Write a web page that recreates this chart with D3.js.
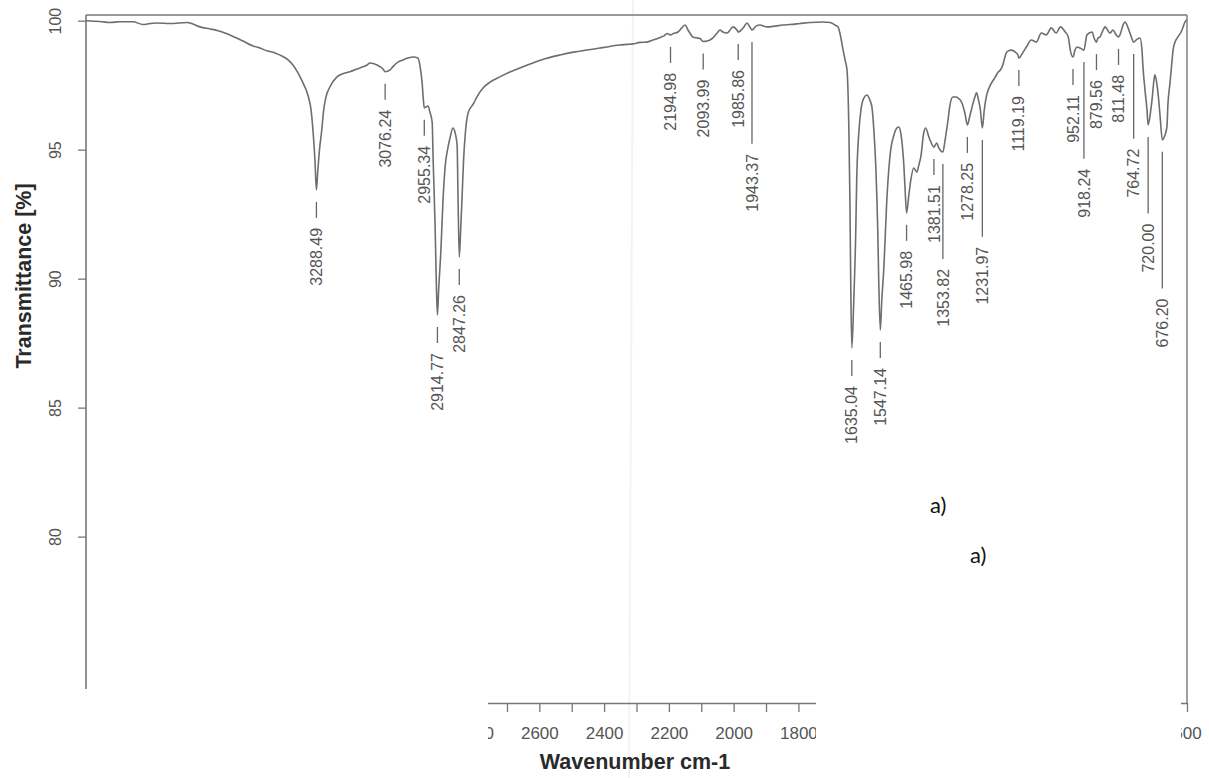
<!DOCTYPE html>
<html><head><meta charset="utf-8">
<script src="https://cdn.jsdelivr.net/npm/d3@7"></script>
<style>
html,body{margin:0;padding:0;background:#fff;}
svg{display:block;}
</style></head><body>
<svg id="chart" width="1209" height="778"></svg>
<script>
// ---- data (wavenumber in cm-1, transmittance in %) ----
const spectrumWavenumber = [4000,3957,3926,3895,3855,3824,3802,3781,3741,3688,3670,3648,3617,3595,3571,3546,3515,3484,3463,3441,3416,3392,3376,3361,3345,3330,3314,3305,3298,3293,
3284,3279,3272,3266,3259,3247,3225,3200,3185,3154,3132,3123,3101,3083,
3061,3052,3036,3021,3006,2990,2975,2969,2962,2958,
2944,2938,2931,2928,2922,2918,
2911,2904,2897.5,2891,2882,2876,2867,2860,2854,2851,
2843,2839,2834,2829,2820,2802,2793,2774,2752,2722,2691,2660,2620,2583,2536,2490,2453,2413,2391,2366,2351,2329,2311,2289,2268,2249,2227,2215,2206,
2186,2172,2163,2150,2141,2135,2126,2113,2104,
2082,2073,2064,2051,2042,2033,2021,2011,2002,1990,
1980,1968,1959,1950,
1931,1919,1897,1872,1848,1826,1795,1764,1724,1702,1687,1678,1672,1662,1656,1650,1644,1641,1638.5,
1629,1623,1620,1613.5,1607,1598,1589,1579.5,1573,1567,1561,1555,1552,
1542.5,1536,1527,1521,1515,1505,1496,1490,1484,1481,1474.5,1471.5,
1459,1453,1444,1434,1428,1422,1413,1407,1397,1391,
1373,1366.5,
1347,1338,1332,1323,1313,1307,1295,1286,
1272,1266,1256,1250,1244,1238,
1226,1220,1214,1207,1198,1192,1183,1176.5,1170,1158,1152,1142.6,1127,1121,
1105.5,1096,1081,1065,1050,1034.5,1019,1004,991,976,966.6,960.4,
946,940,930.4,
909,893,887,
875,869,859,853,838,828.5,819,
807,797.6,791.5,782,773,
757.5,745,739,736,729.7,723.5,
711,708,702,699,692.6,689.6,683.4,
668,662,659,652.5,646,643,637,628,618.5,612,606,600];
const spectrumTransmittance = [100.00,99.97,99.93,99.96,99.96,99.85,99.89,99.91,99.89,99.93,99.87,99.76,99.68,99.62,99.52,99.39,99.21,99.02,98.94,98.83,98.75,98.61,98.48,98.28,97.97,97.59,97.08,96.54,95.57,94.60,
94.21,94.99,95.76,96.54,97.04,97.43,97.82,97.97,98.02,98.17,98.28,98.36,98.28,98.13,
98.09,98.22,98.40,98.48,98.55,98.59,98.55,98.28,97.59,96.90,
96.69,96.46,96.07,94.60,92.08,89.75,
89.56,91.11,93.05,94.33,95.10,95.45,95.84,95.65,95.18,93.05,
91.89,93.05,94.60,95.57,96.42,96.81,97.04,97.39,97.62,97.82,98.01,98.17,98.36,98.52,98.67,98.79,98.86,98.94,98.98,99.04,99.06,99.08,99.10,99.16,99.17,99.25,99.35,99.41,99.50,
99.50,99.56,99.68,99.83,99.64,99.52,99.37,99.33,99.31,
99.21,99.25,99.33,99.52,99.64,99.56,99.52,99.64,99.76,99.64,
99.60,99.76,99.91,99.76,
99.79,99.83,99.76,99.79,99.83,99.85,99.89,99.93,99.95,99.93,99.83,99.76,99.52,98.86,98.48,98.09,95.65,93.05,89.95,
89.17,91.77,93.82,95.65,96.54,97.00,97.12,96.93,96.65,95.76,94.33,91.89,89.95,
89.17,90.45,93.05,94.21,94.99,95.57,95.84,95.88,95.65,95.38,94.41,93.71,
93.24,93.82,94.29,94.13,94.41,94.72,95.65,95.84,95.49,95.30,
95.26,95.07,
95.38,96.15,96.73,97.04,97.04,97.00,96.81,96.42,
96.23,96.54,97.00,97.20,96.93,96.54,
96.54,97.04,97.31,97.51,97.70,97.82,98.01,98.09,98.24,98.75,98.83,98.86,98.75,98.63,
98.79,98.98,99.25,99.17,99.52,99.45,99.72,99.52,99.76,99.56,99.37,98.86,
98.86,98.98,98.94,
99.45,99.56,99.33,
99.33,99.37,99.64,99.76,99.52,99.64,99.45,
99.45,99.83,99.95,99.72,99.41,
99.25,99.33,98.86,98.22,97.31,96.54,
96.62,96.93,97.70,97.90,97.51,97.20,96.35,
95.57,95.88,96.73,97.59,98.48,98.86,99.17,99.37,99.56,99.76,99.95,100.03];

const peakWavenumber = [3288.49,3076.24,2955.34,2914.77,2847.26,2194.98,2093.99,1985.86,1943.37,1635.04,1547.14,1465.98,1381.51,1353.82,1278.25,1231.97,1119.19,952.11,918.24,879.56,811.48,764.72,720.00,676.20];
const peakTransmittance = [93.44,98.02,96.62,88.59,90.84,99.45,99.19,99.56,99.64,87.31,88.01,92.55,95.10,94.91,95.96,95.84,98.55,98.59,98.86,99.17,99.37,99.17,95.96,95.38];

const xTickValues = d3.range(600, 4001, 100);
const xLabelValues = [4000,3800,3600,3400,3200,3000,2800,2600,2400,2200,2000,1800,1600,1400,1200,1000,800,600];
const yTickValues = [80,85,90,95,100];
const xTitle = "Wavenumber cm-1";
const yTitle = "Transmittance [%]";
const annotations = ["a)","a)"];

// ---- drawing ----
const svg = d3.select("#chart");
const FONT = "'Liberation Sans', Arial, Helvetica, sans-serif";
const x = d3.scaleLinear().domain([4000,600]).range([86,1187]);
const y = d3.scaleLinear().domain([73.55,100.22]).range([703,15]);
const axisColor = "#777", textColor = "#555";

// faint paper crease
svg.append("line").attr("x1",633).attr("x2",629).attr("y1",0).attr("y2",778)
  .attr("stroke","#f3f3f3").attr("stroke-width",2);

const defs = svg.append("defs");
const clip = defs.append("clipPath").attr("id","bottomClip");
clip.append("rect").attr("x",488).attr("y",690).attr("width",328).attr("height",88);
clip.append("rect").attr("x",1181).attr("y",690).attr("width",28).attr("height",88);

// frame: top, right, left spine
svg.append("line").attr("x1",x(4000)).attr("x2",x(600)).attr("y1",y.range()[1]).attr("y2",y.range()[1])
  .attr("stroke",axisColor).attr("stroke-width",1.4);
svg.append("line").attr("x1",x(600)).attr("x2",x(600)).attr("y1",y.range()[1]).attr("y2",y.range()[0])
  .attr("stroke",axisColor).attr("stroke-width",1.4);
svg.append("line").attr("x1",x(4000)).attr("x2",x(4000)).attr("y1",y.range()[1]).attr("y2",689)
  .attr("stroke",axisColor).attr("stroke-width",1.6);

// y axis ticks
const yAxis = svg.append("g").attr("transform",`translate(${x(4000)},0)`)
  .call(d3.axisLeft(y).tickValues(yTickValues).tickSize(8).tickFormat(d3.format("d")));
yAxis.select(".domain").remove();
yAxis.selectAll(".tick line").attr("stroke",axisColor).attr("stroke-width",1.3);
yAxis.selectAll(".tick text")
  .attr("x",null).attr("dy",null)
  .attr("transform","translate(-31,0) rotate(-90)")
  .attr("text-anchor","middle").attr("dy","0.35em")
  .attr("font-family",FONT).attr("font-size","16px").attr("fill",textColor);

// x axis (only the surviving parts of the scanned axis are visible)
const xAxisWrap = svg.append("g").attr("clip-path","url(#bottomClip)");
const xAxis = xAxisWrap.append("g")
  .attr("transform",`translate(0,${y.range()[0]})`)
  .call(d3.axisBottom(x).tickValues(xTickValues).tickSize(9).tickSizeOuter(0)
    .tickFormat(d => xLabelValues.includes(d) ? d3.format("d")(d) : ""));
xAxis.select(".domain").attr("stroke",axisColor).attr("stroke-width",1.4);
xAxis.selectAll(".tick line").attr("stroke",axisColor).attr("stroke-width",1.3);
xAxis.selectAll(".tick text").attr("y",36).attr("dy",null)
  .attr("font-family",FONT).attr("font-size","17px").attr("fill",textColor);

// titles
svg.append("text").attr("x",635).attr("y",769).attr("text-anchor","middle")
  .attr("font-family",FONT).attr("font-weight","bold").attr("font-size","21.5px").attr("fill","#2a2a2a")
  .text(xTitle);
svg.append("text").attr("transform","translate(23,276) rotate(-90)").attr("dy","0.35em")
  .attr("text-anchor","middle")
  .attr("font-family",FONT).attr("font-weight","bold").attr("font-size","21.5px").attr("fill","#2a2a2a")
  .text(yTitle);

// spectrum
const pts = spectrumWavenumber.map((w,i)=>({w, t:spectrumTransmittance[i]}))
  .concat(peakWavenumber.map((w,i)=>({w, t:peakTransmittance[i]})))
  .sort((a,b)=>b.w-a.w);
svg.append("path").datum(pts)
  .attr("d", d3.line().x(d=>x(d.w)).y(d=>y(d.t)).curve(d3.curveMonotoneX))
  .attr("fill","none").attr("stroke","#6e6e6e").attr("stroke-width",1.6).attr("stroke-linejoin","round");

// peak labels (OPUS style: dash, then rotated value; staggered when crowded)
const fmt = d3.format(".2f");
const labelG = svg.append("g");
const placed = [];
peakWavenumber.map((w,i)=>({w, t:peakTransmittance[i]})).sort((a,b)=>b.w-a.w).forEach(p=>{
  const px = x(p.w), py = y(p.t);
  const txt = labelG.append("text")
    .attr("font-family",FONT).attr("font-size","16px").attr("fill",textColor)
    .attr("text-anchor","end").attr("dy","0.35em")
    .text(fmt(p.w));
  const len = txt.node().getComputedTextLength();
  let start = py + 38, moved = true;
  while (moved) {
    moved = false;
    for (const q of placed) {
      if (Math.abs(q.px - px) < 16 && start < q.end + 20 && start + len > q.start - 20) {
        start = q.end + 26; moved = true;
      }
    }
  }
  txt.attr("transform",`translate(${px},${start}) rotate(-90)`);
  labelG.append("line").attr("x1",px).attr("x2",px).attr("y1",py+12).attr("y2",start-10)
    .attr("stroke","#666").attr("stroke-width",1.3);
  placed.push({px, start, end:start+len});
});

// pasted panel tags
svg.append("text").attr("x",930).attr("y",513).attr("font-family","Lato, 'Open Sans', sans-serif")
  .attr("font-size","22px").attr("fill","#111").text(annotations[0]);
svg.append("text").attr("x",970).attr("y",563).attr("font-family","Lato, 'Open Sans', sans-serif")
  .attr("font-size","22px").attr("fill","#111").text(annotations[1]);
</script>
</body></html>
